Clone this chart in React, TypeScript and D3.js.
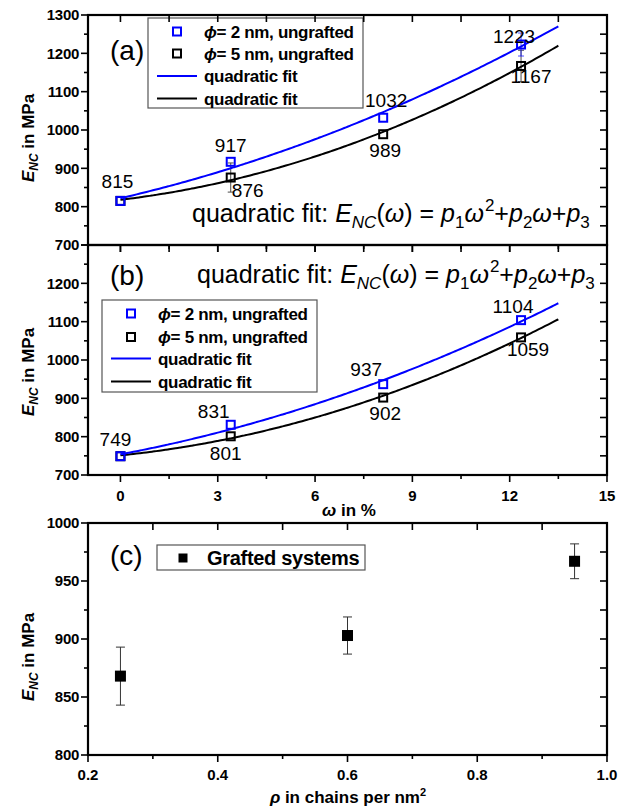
import React from "react";
import * as d3 from "d3";

// ---- data ----
const omega = [0, 3.4, 8.1, 12.35]; // filler fraction in %
const ungraftedA2nm = [815, 917, 1032, 1223];
const ungraftedA5nm = [815, 876, 989, 1167];
const ungraftedB2nm = [749, 831, 937, 1104];
const ungraftedB5nm = [749, 801, 902, 1059];
const errA2nm = [0, 0, 0, 30];
const errA5nm = [0, 38, 0, 41];
const fitEnd = 13.5;

const rho = [0.25, 0.6, 0.95]; // chains per nm^2
const grafted = [868, 903, 967];
const graftedErr = [25, 16, 15];

const omegaTicks = [0, 3, 6, 9, 12, 15];
const omegaMinor = [1.5, 4.5, 7.5, 10.5, 13.5];
const modTicksA = [700, 800, 900, 1000, 1100, 1200, 1300];
const modTicksB = [700, 800, 900, 1000, 1100, 1200];
const modMinorAB = [750, 850, 950, 1050, 1150, 1250];
const modTicksC = [800, 850, 900, 950, 1000];
const modMinorC = [825, 875, 925, 975];
const rhoTicks = [0.2, 0.4, 0.6, 0.8, 1.0];
const rhoMinor = [0.3, 0.5, 0.7, 0.9];

// label placement for the annotated values (dx, dy from the marker)
const offA2nm = [[-3, -13], [0, -10], [3, -11], [-7, -2]];
const offA5nm = [[0, 0], [17, 19], [2, 23], [10, 17]];
const offB2nm = [[-5, -10], [-17, -7], [-17, -8], [-8, -7]];
const offB5nm = [[0, 0], [-5, 24], [2, 22], [7, 19]];

const FONT = "'Liberation Sans', Arial, Helvetica, sans-serif";
const BLUE = "#0000ff";

const X0 = 88;
const X1 = 607;

// least-squares quadratic E = p1*w^2 + p2*w + p3
function quadFit(xs: number[], ys: number[]) {
  const s = [0, 0, 0, 0, 0];
  const t = [0, 0, 0];
  xs.forEach((x, i) => {
    for (let k = 0; k < 5; k++) s[k] += Math.pow(x, k);
    for (let k = 0; k < 3; k++) t[k] += Math.pow(x, k) * ys[i];
  });
  // normal equations for [p3, p2, p1]
  const A = [
    [s[0], s[1], s[2], t[0]],
    [s[1], s[2], s[3], t[1]],
    [s[2], s[3], s[4], t[2]],
  ];
  for (let c = 0; c < 3; c++) {
    for (let r = c + 1; r < 3; r++) {
      const f = A[r][c] / A[c][c];
      for (let k = c; k < 4; k++) A[r][k] -= f * A[c][k];
    }
  }
  const p = [0, 0, 0];
  for (let r = 2; r >= 0; r--) {
    let v = A[r][3];
    for (let k = r + 1; k < 3; k++) v -= A[r][k] * p[k];
    p[r] = v / A[r][r];
  }
  return (x: number) => p[0] + p[1] * x + p[2] * x * x;
}

type Scale = d3.ScaleLinear<number, number>;

function Frame(props: {
  x: Scale;
  y: Scale;
  xMajor: number[];
  xMinor: number[];
  yMajor: number[];
  yMinor: number[];
  yLabels: number[];
  xLabels?: number[];
  xFormat?: (v: number) => string;
  xLabelY?: number;
}) {
  const { x, y } = props;
  const [top, bottom] = [y.range()[1], y.range()[0]];
  const M = 7;
  const m = 4;
  const els: React.ReactNode[] = [];
  props.yMajor.forEach((v, i) => {
    els.push(<line key={"yl" + i} x1={X0 - M} x2={X0} y1={y(v)} y2={y(v)} />);
    els.push(<line key={"yr" + i} x1={X1 - M} x2={X1} y1={y(v)} y2={y(v)} />);
  });
  props.yMinor.forEach((v, i) => {
    els.push(<line key={"yml" + i} x1={X0 - m} x2={X0} y1={y(v)} y2={y(v)} />);
    els.push(<line key={"ymr" + i} x1={X1 - M} x2={X1} y1={y(v)} y2={y(v)} />);
  });
  props.xMajor.forEach((v, i) => {
    els.push(<line key={"xb" + i} x1={x(v)} x2={x(v)} y1={bottom} y2={bottom + M} />);
    els.push(<line key={"xt" + i} x1={x(v)} x2={x(v)} y1={top} y2={top + M} />);
  });
  props.xMinor.forEach((v, i) => {
    els.push(<line key={"xmb" + i} x1={x(v)} x2={x(v)} y1={bottom} y2={bottom + m} />);
    els.push(<line key={"xmt" + i} x1={x(v)} x2={x(v)} y1={top} y2={top + M} />);
  });
  return (
    <g>
      <g stroke="#000" strokeWidth={1.6}>{els}</g>
      <rect x={X0} y={top} width={X1 - X0} height={bottom - top} fill="none" stroke="#000" strokeWidth={2.2} />
      <g fontFamily={FONT} fontWeight="bold" fontSize={15} textAnchor="end">
        {props.yLabels.map((v) => (
          <text key={v} x={X0 - 9} y={y(v)} dy="0.36em" letterSpacing={-0.3}>
            {v}
          </text>
        ))}
      </g>
      {props.xLabels && (
        <g fontFamily={FONT} fontWeight="bold" fontSize={15} textAnchor="middle">
          {props.xLabels.map((v) => (
            <text key={v} x={x(v)} y={props.xLabelY}>
              {props.xFormat ? props.xFormat(v) : v}
            </text>
          ))}
        </g>
      )}
    </g>
  );
}

function Formula(props: { x: number; y: number }) {
  const sub = { fontSize: 17 };
  return (
    <text x={props.x} y={props.y} fontFamily={FONT} fontSize={25} style={{ whiteSpace: "pre" }}>
      {"quadratic fit: "}
      <tspan fontStyle="italic">E</tspan>
      <tspan {...sub} fontStyle="italic" dy={6}>NC</tspan>
      <tspan dy={-6}>(</tspan>
      <tspan fontStyle="italic">ω</tspan>
      <tspan>{") = "}</tspan>
      <tspan fontStyle="italic">p</tspan>
      <tspan {...sub} dy={6}>1</tspan>
      <tspan fontStyle="italic" dy={-6}>ω</tspan>
      <tspan {...sub} dy={-11} dx={1}>2</tspan>
      <tspan dy={11}>+</tspan>
      <tspan fontStyle="italic">p</tspan>
      <tspan {...sub} dy={6}>2</tspan>
      <tspan fontStyle="italic" dy={-6}>ω</tspan>
      <tspan>+</tspan>
      <tspan fontStyle="italic">p</tspan>
      <tspan {...sub} dy={6}>3</tspan>
    </text>
  );
}

function YTitle(props: { cx: number; cy: number }) {
  return (
    <text
      transform={`translate(${props.cx},${props.cy}) rotate(-90)`}
      textAnchor="middle"
      fontFamily={FONT}
      fontWeight="bold"
      fontSize={17}
      style={{ whiteSpace: "pre" }}
    >
      <tspan fontStyle="italic">E</tspan>
      <tspan fontStyle="italic" fontSize={12} dy={4}>NC</tspan>
      <tspan dy={-4}>{" in MPa"}</tspan>
    </text>
  );
}

function Legend(props: { x: number; y: number; w: number; h: number; rowY: number[] }) {
  const { x, y, w, h, rowY } = props;
  const sx = x + 29;
  const tx = x + 56;
  const rows = [
    { kind: "sq", color: BLUE, label: "2" },
    { kind: "sq", color: "#000", label: "5" },
    { kind: "ln", color: BLUE },
    { kind: "ln", color: "#000" },
  ];
  return (
    <g fontFamily={FONT} fontWeight="bold" fontSize={17}>
      <rect x={x} y={y} width={w} height={h} fill="#fff" stroke="#555" strokeWidth={1.2} />
      {rows.map((r, i) =>
        r.kind === "sq" ? (
          <g key={i}>
            <rect x={sx - 4} y={rowY[i] - 4} width={8} height={8} fill="none" stroke={r.color} strokeWidth={2} />
            <text x={tx} y={rowY[i]} dy="0.36em" style={{ whiteSpace: "pre" }} letterSpacing={-0.3}>
              <tspan fontStyle="italic">ϕ</tspan>
              {`= ${r.label} nm, ungrafted`}
            </text>
          </g>
        ) : (
          <g key={i}>
            <line x1={x + 9} x2={x + 49} y1={rowY[i]} y2={rowY[i]} stroke={r.color} strokeWidth={2} />
            <text x={tx} y={rowY[i]} dy="0.36em" letterSpacing={-0.3}>quadratic fit</text>
          </g>
        )
      )}
    </g>
  );
}

function Series(props: {
  x: Scale;
  y: Scale;
  values: number[];
  color: string;
  err?: number[];
  offsets: number[][];
  showLabel: boolean[];
}) {
  const { x, y, values, color, err } = props;
  const fit = quadFit(omega, values);
  const pts = d3.range(0, fitEnd + 1e-9, 0.1).map((w) => [w, fit(w)] as [number, number]);
  const line = d3
    .line<[number, number]>()
    .x((d) => x(d[0]))
    .y((d) => y(d[1]))
    .curve(d3.curveMonotoneX);
  return (
    <g>
      <path d={line(pts) || ""} fill="none" stroke={color} strokeWidth={2} />
      {err &&
        values.map((v, i) =>
          err[i] > 0 ? (
            <g key={"e" + i} stroke={color} strokeWidth={1} opacity={0.7}>
              <line x1={x(omega[i])} x2={x(omega[i])} y1={y(v - err[i])} y2={y(v + err[i])} />
              <line x1={x(omega[i]) - 3} x2={x(omega[i]) + 3} y1={y(v - err[i])} y2={y(v - err[i])} />
              <line x1={x(omega[i]) - 3} x2={x(omega[i]) + 3} y1={y(v + err[i])} y2={y(v + err[i])} />
            </g>
          ) : null
        )}
      {values.map((v, i) => (
        <rect
          key={"m" + i}
          x={x(omega[i]) - 4}
          y={y(v) - 4}
          width={8}
          height={8}
          fill="none"
          stroke={color}
          strokeWidth={2}
        />
      ))}
      <g fontFamily={FONT} fontSize={19} textAnchor="middle" fill="#000">
        {values.map((v, i) =>
          props.showLabel[i] ? (
            <text key={"t" + i} x={x(omega[i]) + props.offsets[i][0]} y={y(v) + props.offsets[i][1]}>
              {v}
            </text>
          ) : null
        )}
      </g>
    </g>
  );
}

export default function App() {
  const xw = d3.scaleLinear().domain([-1, 15]).range([X0, X1]);
  const yA = d3.scaleLinear().domain([700, 1300]).range([245, 15]);
  const yB = d3.scaleLinear().domain([700, 1300]).range([475, 245]);
  const xr = d3.scaleLinear().domain([0.2, 1.0]).range([X0, X1]);
  const yC = d3.scaleLinear().domain([800, 1000]).range([755, 523]);

  const show2 = [true, true, true, true];
  const show5 = [false, true, true, true];

  return (
    <svg
      width={618}
      height={808}
      viewBox="0 0 618 808"
      style={{ position: "absolute", left: 0, top: 0, background: "#fff" }}
    >
      <rect width={618} height={808} fill="#fff" />

      {/* (a) */}
      <Series x={xw} y={yA} values={ungraftedA5nm} color="#000" err={errA5nm} offsets={offA5nm} showLabel={show5} />
      <Series x={xw} y={yA} values={ungraftedA2nm} color={BLUE} err={errA2nm} offsets={offA2nm} showLabel={show2} />
      <Legend x={148} y={18} w={215} h={90} rowY={[31.5, 53.5, 76, 98.5]} />
      <text x={110} y={60} fontFamily={FONT} fontSize={28}>(a)</text>
      <Formula x={192} y={222} />
      <Frame x={xw} y={yA} xMajor={omegaTicks} xMinor={omegaMinor} yMajor={modTicksA} yMinor={modMinorAB} yLabels={modTicksA} />
      <YTitle cx={34} cy={138} />

      {/* (b) */}
      <Series x={xw} y={yB} values={ungraftedB5nm} color="#000" offsets={offB5nm} showLabel={show5} />
      <Series x={xw} y={yB} values={ungraftedB2nm} color={BLUE} offsets={offB2nm} showLabel={show2} />
      <Legend x={102} y={300} w={215} h={92} rowY={[313.5, 337, 358.5, 381.5]} />
      <text x={110} y={285} fontFamily={FONT} fontSize={28}>(b)</text>
      <Formula x={197} y={283} />
      <Frame
        x={xw}
        y={yB}
        xMajor={omegaTicks}
        xMinor={omegaMinor}
        yMajor={modTicksA}
        yMinor={modMinorAB}
        yLabels={modTicksB}
        xLabels={omegaTicks}
        xLabelY={501}
      />
      <YTitle cx={34} cy={372} />
      <text x={349} y={516} textAnchor="middle" fontFamily={FONT} fontWeight="bold" fontSize={17} style={{ whiteSpace: "pre" }}>
        <tspan fontStyle="italic">ω</tspan>
        {" in %"}
      </text>

      {/* (c) */}
      <g>
        {rho.map((r, i) => (
          <g key={i}>
            <g stroke="#333" strokeWidth={1}>
              <line x1={xr(r)} x2={xr(r)} y1={yC(grafted[i] - graftedErr[i])} y2={yC(grafted[i] + graftedErr[i])} />
              <line x1={xr(r) - 4.5} x2={xr(r) + 4.5} y1={yC(grafted[i] - graftedErr[i])} y2={yC(grafted[i] - graftedErr[i])} />
              <line x1={xr(r) - 4.5} x2={xr(r) + 4.5} y1={yC(grafted[i] + graftedErr[i])} y2={yC(grafted[i] + graftedErr[i])} />
            </g>
            <rect x={xr(r) - 5.5} y={yC(grafted[i]) - 5.5} width={11} height={11} fill="#000" />
          </g>
        ))}
      </g>
      <g fontFamily={FONT}>
        <rect x={157} y={545} width={208} height={25} fill="#fff" stroke="#555" strokeWidth={1.2} />
        <rect x={183 - 4.5} y={558 - 4.5} width={9} height={9} fill="#000" />
        <text x={207} y={558} dy="0.36em" fontWeight="bold" fontSize={20} letterSpacing={-0.3}>
          Grafted systems
        </text>
        <text x={110} y={565} fontSize={28}>(c)</text>
      </g>
      <Frame
        x={xr}
        y={yC}
        xMajor={rhoTicks}
        xMinor={rhoMinor}
        yMajor={modTicksC}
        yMinor={modMinorC}
        yLabels={modTicksC}
        xLabels={rhoTicks}
        xFormat={(v) => d3.format(".1f")(v)}
        xLabelY={780}
      />
      <YTitle cx={34} cy={657} />
      <text x={348} y={803} textAnchor="middle" fontFamily={FONT} fontWeight="bold" fontSize={17} style={{ whiteSpace: "pre" }}>
        <tspan fontStyle="italic">ρ</tspan>
        {" in chains per nm"}
        <tspan fontSize={11} dy={-7}>2</tspan>
      </text>
    </svg>
  );
}
